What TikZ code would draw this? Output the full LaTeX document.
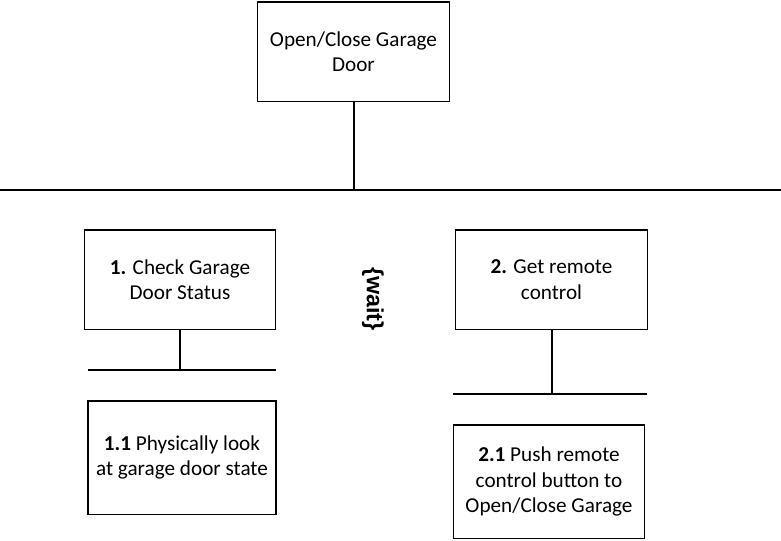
\documentclass[tikz,border=0pt]{standalone}
\usepackage{fontspec}
\setmainfont{Carlito}
\newfontfamily\waitfont{Liberation Sans}
\usetikzlibrary{positioning}

\begin{document}
\begin{tikzpicture}[
    x=0.75pt, y=-0.75pt,
    node distance=23pt and 0pt,
    box/.style={draw, align=center, minimum width=143.5pt, minimum height=74.3pt, inner sep=0pt, font=\fontsize{15.9}{19}\selectfont, line width=0.8pt},
    subbox/.style={box, minimum height=84.8pt},
    bus/.style={line width=1.5pt}
  ]
    \useasboundingbox (0,0) rectangle (781,540);
    \node[box] (task) at (353.5,51.5) {Open/Close Garage\\Door};
    \node[box] (check) at (180,279.5) {\textbf{1.} Check Garage\\Door Status};
    \node[box] (remote) at (551.5,279.5) {\textbf{2.} Get remote\\control};
    \node[subbox, minimum width=141pt] (look) at (182,457.5) {\textbf{1.1} Physically look\\at garage door state};
    \node[subbox] (push) at (549,481.5) {\textbf{2.1} Push remote\\control button to\\Open/Close Garage};
    \node[rotate=-90, font=\waitfont\bfseries\fontsize{17.5}{20}\selectfont] (wait) at (373,299) {\{wait\}};
    % bars
    \coordinate (busL) at (0,190);
    \coordinate (busR) at (781,190);
    \coordinate (checkL) at (88,370);
    \coordinate (checkR) at (276,370);
    \coordinate (remoteL) at (453,394);
    \coordinate (remoteR) at (647,394);
    \draw[bus] (busL) -- (busR);
    \draw[bus] (checkL) -- (checkR);
    \draw[bus] (remoteL) -- (remoteR);
    \draw[bus] (task.south) -- (task.south |- busL);
    \draw[bus] (check.south) -- (check.south |- checkL);
    \draw[bus] (remote.south) -- (remote.south |- remoteL);
  \end{tikzpicture}
\end{document}
